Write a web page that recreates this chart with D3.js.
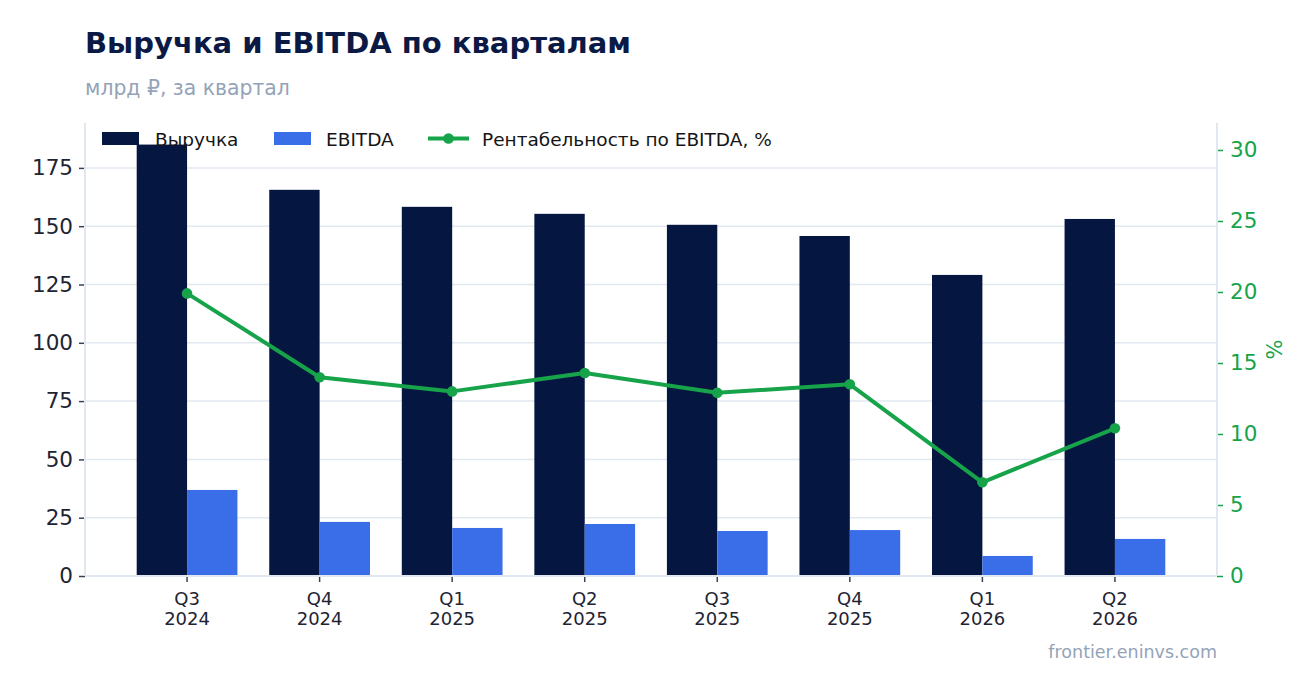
<!DOCTYPE html>
<html>
<head>
<meta charset="utf-8">
<script src="https://cdn.jsdelivr.net/npm/d3@7"></script>
<style>
  html, body { margin: 0; padding: 0; background: #ffffff; }
  svg { display: block; font-family: "DejaVu Sans", sans-serif; }
</style>
</head>
<body>
<svg id="chart"></svg>
<script>
// ── Data ─────────────────────────────────────────────
const quarters  = ['Q3 2024', 'Q4 2024', 'Q1 2025', 'Q2 2025', 'Q3 2025', 'Q4 2025', 'Q1 2026', 'Q2 2026'];
const revenue   = [185.0, 165.6, 158.3, 155.3, 150.6, 145.8, 129.1, 153.1];
const ebitda    = [36.9, 23.2, 20.6, 22.3, 19.3, 19.7, 8.6, 15.9];
const margin    = [19.9, 14.0, 13.0, 14.3, 12.9, 13.5, 6.6, 10.4];
const leftTicks  = [0, 25, 50, 75, 100, 125, 150, 175];
const rightTicks = [0, 5, 10, 15, 20, 25, 30];

// ── Layout ───────────────────────────────────────────
const W = 1316, H = 693;
const plot = { left: 85, right: 1217, top: 123, bottom: 576 };

const C = {
  navy:  '#051640',
  blue:  '#3a6ee8',
  green: '#16a34a',
  grid:  '#e2e8f0',
  text:  '#1e2433',
  muted: '#94a3b8',
  title: '#0b1a45',
};

const svg = d3.select('#chart').attr('width', W).attr('height', H);

const x = d3.scaleBand()
  .domain(quarters)
  .range([plot.left, plot.right])
  .paddingInner(0)
  .paddingOuter(0.27);

const yL = d3.scaleLinear().domain([0, 194.25]).range([plot.bottom, plot.top]);
const yR = d3.scaleLinear().domain([0, 31.9]).range([plot.bottom, plot.top]);

const step = x.step();
const barW = step * 0.38;
const cx = q => x(q) + step / 2;

// ── Grid ─────────────────────────────────────────────
svg.append('g')
  .selectAll('line')
  .data(leftTicks)
  .join('line')
    .attr('x1', plot.left).attr('x2', plot.right)
    .attr('y1', d => yL(d)).attr('y2', d => yL(d))
    .attr('stroke', C.grid)
    .attr('stroke-width', 1.5);

// ── Bars ─────────────────────────────────────────────
svg.append('g')
  .selectAll('rect')
  .data(quarters)
  .join('rect')
    .attr('x', q => cx(q) - barW)
    .attr('y', (q, i) => yL(revenue[i]))
    .attr('width', barW)
    .attr('height', (q, i) => plot.bottom - yL(revenue[i]))
    .attr('fill', C.navy);

svg.append('g')
  .selectAll('rect')
  .data(quarters)
  .join('rect')
    .attr('x', q => cx(q))
    .attr('y', (q, i) => yL(ebitda[i]))
    .attr('width', barW)
    .attr('height', (q, i) => plot.bottom - yL(ebitda[i]))
    .attr('fill', C.blue);

// ── Axes ─────────────────────────────────────────────
const styleAxis = (g, tickColor, textColor, size) => {
  g.select('.domain').remove();
  g.selectAll('.tick line').attr('stroke', tickColor).attr('stroke-width', 1.5);
  g.selectAll('.tick text')
    .attr('fill', textColor)
    .attr('font-size', size)
    .attr('font-family', '"DejaVu Sans", sans-serif');
};

svg.append('g')
  .attr('transform', `translate(${plot.left},0)`)
  .call(d3.axisLeft(yL).tickValues(leftTicks).tickSize(6).tickPadding(6))
  .call(g => styleAxis(g, '#3a4250', C.text, 21.5));

svg.append('g')
  .attr('transform', `translate(${plot.right},0)`)
  .call(d3.axisRight(yR).tickValues(rightTicks).tickSize(6).tickPadding(7))
  .call(g => styleAxis(g, C.green, C.green, 21.5));

const xAxis = svg.append('g')
  .attr('transform', `translate(0,${plot.bottom})`)
  .call(d3.axisBottom(x).tickSize(6).tickPadding(10))
  .call(g => styleAxis(g, '#3a4250', C.text, 18));

// two-line quarter labels
xAxis.selectAll('.tick text').each(function(d) {
  const [q, yr] = d.split(' ');
  const t = d3.select(this).text(null);
  t.append('tspan').attr('x', 0).attr('dy', '0.71em').text(q);
  t.append('tspan').attr('x', 0).attr('dy', '1.15em').text(yr);
}).attr('dy', null);

// spines
const spines = svg.append('g').attr('stroke', C.grid).attr('stroke-width', 2);
spines.append('line').attr('x1', plot.left).attr('x2', plot.left).attr('y1', plot.top).attr('y2', plot.bottom);
spines.append('line').attr('x1', plot.right).attr('x2', plot.right).attr('y1', plot.top).attr('y2', plot.bottom);
spines.append('line').attr('x1', plot.left).attr('x2', plot.right).attr('y1', plot.bottom).attr('y2', plot.bottom);

// ── Margin line ──────────────────────────────────────
const line = d3.line()
  .x((d, i) => cx(quarters[i]))
  .y(d => yR(d));

svg.append('path')
  .datum(margin)
  .attr('d', line)
  .attr('fill', 'none')
  .attr('stroke', C.green)
  .attr('stroke-width', 4)
  .attr('stroke-linejoin', 'round');

svg.append('g')
  .selectAll('circle')
  .data(margin)
  .join('circle')
    .attr('cx', (d, i) => cx(quarters[i]))
    .attr('cy', d => yR(d))
    .attr('r', 5.3)
    .attr('fill', C.green);

// right axis label
svg.append('text')
  .attr('transform', `translate(1282,${(plot.top + plot.bottom) / 2}) rotate(-90)`)
  .attr('text-anchor', 'middle')
  .attr('fill', C.green)
  .attr('font-size', 21)
  .text('%');

// ── Legend ───────────────────────────────────────────
const lg = svg.append('g').attr('font-size', 18.5).attr('fill', '#151515');
lg.append('rect').attr('x', 102).attr('y', 132).attr('width', 37).attr('height', 13).attr('fill', C.navy);
lg.append('text').attr('x', 155).attr('y', 145.5).text('Выручка');
lg.append('rect').attr('x', 274).attr('y', 132).attr('width', 37).attr('height', 13).attr('fill', C.blue);
lg.append('text').attr('x', 326).attr('y', 145.5).text('EBITDA');
lg.append('line').attr('x1', 428).attr('x2', 469).attr('y1', 138.5).attr('y2', 138.5)
  .attr('stroke', C.green).attr('stroke-width', 4);
lg.append('circle').attr('cx', 448.5).attr('cy', 138.5).attr('r', 5.3).attr('fill', C.green);
lg.append('text').attr('x', 482).attr('y', 145.5).text('Рентабельность по EBITDA, %');

// ── Titles ───────────────────────────────────────────
svg.append('text')
  .attr('x', 85).attr('y', 53)
  .attr('font-size', 29)
  .attr('font-weight', 'bold')
  .attr('fill', C.title)
  .text('Выручка и EBITDA по кварталам');

svg.append('text')
  .attr('x', 85).attr('y', 95)
  .attr('font-size', 20.4)
  .attr('fill', C.muted)
  .text('млрд ₽, за квартал');

svg.append('text')
  .attr('x', plot.right).attr('y', 658)
  .attr('text-anchor', 'end')
  .attr('font-size', 17.5)
  .attr('fill', C.muted)
  .text('frontier.eninvs.com');
</script>
</body>
</html>
